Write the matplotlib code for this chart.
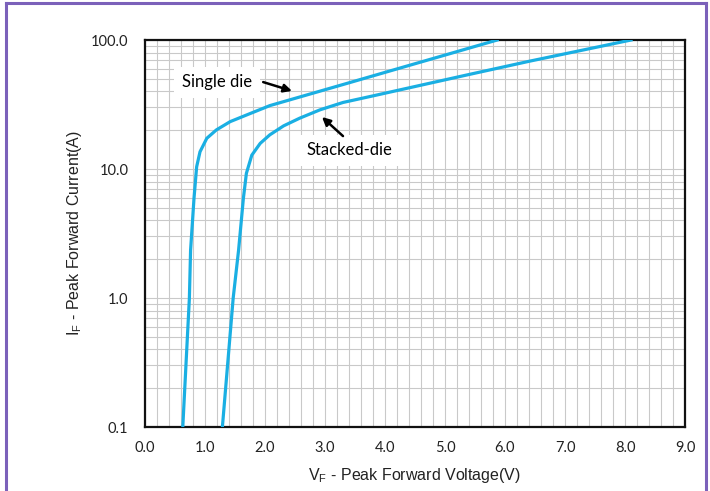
import matplotlib.pyplot as plt
from matplotlib.lines import Line2D
from matplotlib.ticker import MultipleLocator, FixedLocator, NullFormatter

# --- Data (V in volts, I in amps) ---
single_v = [0.63, 0.74, 0.76, 0.817, 0.861, 0.917, 1.03, 1.19, 1.42, 1.69, 2.08, 2.5,
            3.2, 4.2, 5.87]
single_i = [0.1, 1.0, 2.35, 5.93, 10.4, 13.6, 17.3, 20.1, 23.3, 26.2, 31.0, 35.3,
            43.8, 59.7, 100.0]

stacked_v = [1.29, 1.47, 1.56, 1.64, 1.69, 1.78, 1.92, 2.08, 2.31, 2.58, 2.92, 3.3,
             3.8, 5.42, 6.42, 8.1]
stacked_i = [0.1, 1.0, 2.35, 5.93, 9.26, 12.8, 15.8, 18.4, 21.6, 24.8, 28.8, 32.8,
             36.9, 54.3, 68.7, 100.0]

x_ticks = [0, 1, 2, 3, 4, 5, 6, 7, 8, 9]
y_ticks = [0.1, 1.0, 10.0, 100.0]
y_labels = ['0.1', '1.0', '10.0', '100.0']

LINE_COLOR = '#1AAFE3'
GRID_COLOR = '#C9C9C9'
FRAME_COLOR = '#7B61BA'

fig = plt.figure(figsize=(7.1, 4.91), dpi=100)
ax = fig.add_axes([0.2042, 0.1303, 0.7606, 0.7882])

ax.plot(single_v, single_i, color=LINE_COLOR, linewidth=2.3, solid_joinstyle='round', zorder=3)
ax.plot(stacked_v, stacked_i, color=LINE_COLOR, linewidth=2.3, solid_joinstyle='round', zorder=3)

ax.set_yscale('log')
ax.set_xlim(0, 9)
ax.set_ylim(0.1, 100)

# grid: 0.2 V verticals, log minor horizontals
ax.xaxis.set_major_locator(FixedLocator(x_ticks))
ax.xaxis.set_minor_locator(MultipleLocator(0.2))
minor_y = [m * 10.0 ** e for e in (-1, 0, 1) for m in range(2, 10)]
ax.yaxis.set_major_locator(FixedLocator(y_ticks))
ax.yaxis.set_minor_locator(FixedLocator(minor_y))
ax.yaxis.set_minor_formatter(NullFormatter())
ax.grid(True, which='both', color=GRID_COLOR, linewidth=0.8)
ax.set_axisbelow(True)

ax.set_xticklabels(['%.1f' % v for v in x_ticks], fontsize=10.5, family='Lato', color='#222222')
ax.set_yticklabels(y_labels, fontsize=10.5, family='Lato', color='#222222')
ax.tick_params(axis='both', which='both', length=0)
ax.tick_params(axis='x', pad=10)
ax.tick_params(axis='y', pad=12)

for s in ax.spines.values():
    s.set_linewidth(1.6)
    s.set_color('#111111')

ax.set_xlabel('V$_\\mathregular{F}$ - Peak Forward Voltage(V)', fontsize=11.5,
              family='Liberation Sans', color='#222222', labelpad=8)
ax.set_ylabel('I$_\\mathregular{F}$ - Peak Forward Current(A)', fontsize=11.5,
              family='Liberation Sans', color='#222222', labelpad=5)

# annotations
box = dict(boxstyle='square,pad=0.45', facecolor='white', edgecolor='none')
arrow = dict(arrowstyle='-|>', color='black', lw=1.8, mutation_scale=12, shrinkA=0, shrinkB=0)
ax.annotate('Single die', xy=(1.2, 47.2), fontsize=12, family='Lato',
            ha='center', va='center', bbox=box, zorder=4)
ax.annotate('', xy=(2.45, 40.3), xytext=(1.97, 47.2), arrowprops=arrow, zorder=4)
ax.annotate('Stacked-die', xy=(3.4, 14.0), fontsize=12, family='Lato',
            ha='center', va='center', bbox=box, zorder=4)
ax.annotate('', xy=(2.95, 25.3), xytext=(3.3, 18.0), arrowprops=arrow, zorder=4)

# purple frame around the figure
for xs, ys in [([6 / 710, 6 / 710], [0, 1 - 3 / 491]),
               ([706 / 710, 706 / 710], [0, 1 - 3 / 491]),
               ([6 / 710, 706 / 710], [1 - 3 / 491, 1 - 3 / 491])]:
    fig.add_artist(Line2D(xs, ys, transform=fig.transFigure, color=FRAME_COLOR, linewidth=2.2))

fig.savefig('out.png', dpi=100)
